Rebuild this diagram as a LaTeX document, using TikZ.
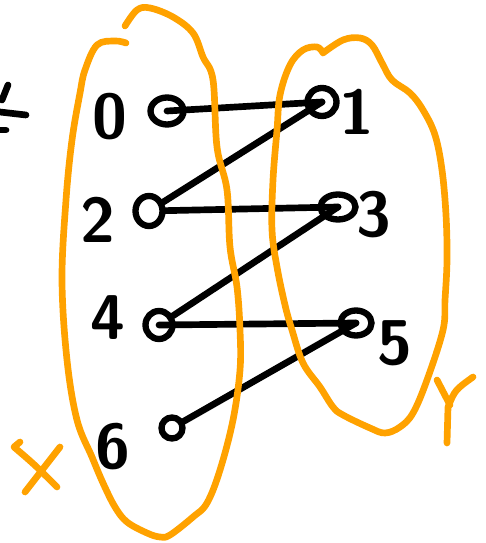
\documentclass[tikz,border=0pt]{standalone}
\usepackage{tikz}
\usetikzlibrary{shapes.geometric}
\definecolor{marker}{HTML}{FFA200}
\definecolor{ink}{HTML}{000000}

\begin{document}
\begin{tikzpicture}[x=0.02cm,y=-0.02cm,
    dot/.style={draw=ink,ellipse,line width=3.6pt,inner sep=0pt},
    num/.style={text=ink,font=\fontsize{36}{38}\selectfont\sffamily\bfseries},
    link/.style={draw=ink,line width=3.8pt,line cap=round},
    blob/.style={draw=marker,line width=3.8pt,line cap=round,line join=round}]
    \useasboundingbox (0,0) rectangle (485,543);
    % left set X
    \node[dot,minimum width=0.66cm,minimum height=0.54cm] (v0) at (167,111) {};
    \node[dot,minimum width=0.54cm,minimum height=0.6cm] (v2) at (149,211) {};
    \node[dot,minimum width=0.54cm,minimum height=0.56cm] (v4) at (159,325) {};
    \node[dot,minimum width=0.42cm,minimum height=0.42cm] (v6) at (172,428) {};
    \node[num] (l0) at (110,117) {0};
    \node[num] (l2) at (98,220) {2};
    \node[num] (l4) at (108,318) {4};
    \node[num] (l6) at (113,447) {6};
    % right set Y
    \node[dot,minimum width=0.58cm,minimum height=0.56cm] (v1) at (322,102) {};
    \node[dot,minimum width=0.7cm,minimum height=0.5cm] (v3) at (338,207) {};
    \node[dot,minimum width=0.62cm,minimum height=0.5cm] (v5) at (356,323) {};
    \node[num] (l1) at (357,112) {1};
    \node[num] (l3) at (374,215) {3};
    \node[num] (l5) at (395,343) {5};
    % pairs
    \draw[link] (v0.center) -- (v1.center);
    \draw[link] (v1.center) -- (v2);
    \draw[link] (v2) -- (v3.center);
    \draw[link] (v3.center) -- (v4);
    \draw[link] (v4.center) -- (v5.center);
    \draw[link] (v5.center) -- (v6);
    % outlines
    \draw[blob] plot[smooth,tension=0.6] coordinates {(125,26) (137,10) (150,8)
      (173,17) (193,33) (203,57) (213,80) (217,147) (227,190) (230,247) (237,287)
      (240,330) (240,370) (233,420) (220,470) (207,503) (193,517) (170,535)
      (160,537) (147,533) (127,522) (115,507) (103,483) (92,457) (77,420)
      (67,360) (62,280) (66,200) (72,140) (80,93) (85,70) (97,45) (115,41) (126,43)};
    \draw[blob] plot[smooth,tension=0.6] coordinates {(323,53) (343,40) (360,38)
      (372,45) (382,63) (392,80) (410,93) (423,110) (435,135) (442,170) (446,215)
      (447,260) (445,300) (443,330) (427,380) (413,413) (400,427) (385,433)
      (370,428) (343,415) (333,407) (320,387) (303,363) (292,330) (285,305)
      (277,267) (272,230) (273,180) (277,130) (280,95) (290,65) (303,50)
      (317,47) (323,53)};
    % set names
    \draw[blob] (20,442) -- (14,447) .. controls (35,465) .. (57,487);
    \draw[blob] (60,447) -- (25,492);
    \draw[blob] (437,380) -- (450,405);
    \draw[blob] (473,377) .. controls (455,390) .. (448,407) -- (447,443);
    % cut-off mark on the left
    \draw[link] (8,85) -- (2,100);
    \draw[link] (0,112) -- (26,115);
    \draw[link] (0,130) -- (6,130);
\end{tikzpicture}
\end{document}
